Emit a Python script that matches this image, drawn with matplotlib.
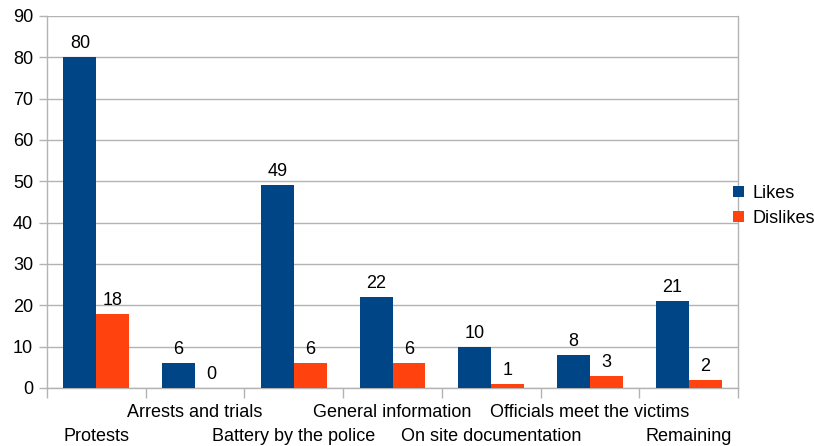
import matplotlib.pyplot as plt
import numpy as np

plt.rcParams['font.family'] = ['Liberation Sans', 'DejaVu Sans']

categories = ["Protests", "Arrests and trials", "Battery by the police",
              "General information", "On site documentation",
              "Officials meet the victims", "Remaining"]
likes = [80, 6, 49, 22, 10, 8, 21]
dislikes = [18, 0, 6, 6, 1, 3, 2]
series_names = ["Likes", "Dislikes"]
colors = ["#004586", "#ff420e"]
grid_color = "#b3b3b3"
fs = 13

fig = plt.figure(figsize=(8.14, 4.46), dpi=100)
ax = fig.add_axes([47 / 814, 1 - 388 / 446, (738 - 47) / 814, (388 - 16) / 446])

n = len(categories)
x = np.arange(n)
w = 1 / 3
bars_l = ax.bar(x - w / 2, likes, width=w, color=colors[0], label=series_names[0], zorder=3)
bars_d = ax.bar(x + w / 2, dislikes, width=w, color=colors[1], label=series_names[1], zorder=3)

for bars, vals in ((bars_l, likes), (bars_d, dislikes)):
    for b, v in zip(bars, vals):
        ax.annotate(f"{v}", (b.get_x() + b.get_width() / 2, v),
                    xytext=(0, 6.5), textcoords="offset points",
                    ha="center", va="baseline", fontsize=fs, color="#000000")

ax.set_xlim(-0.5, n - 0.5)
ax.set_ylim(0, 90)
ax.set_yticks(np.arange(0, 91, 10))
ax.yaxis.grid(True, color=grid_color, linewidth=1, zorder=0)
ax.set_axisbelow(True)

# category boundary ticks
ax.set_xticks(np.arange(-0.5, n, 1.0))
ax.set_xticklabels([])
ax.tick_params(axis="x", length=7, color=grid_color, width=1, direction="out")
ax.tick_params(axis="y", length=6, color=grid_color, width=1, direction="out",
               labelsize=fs, pad=4)

# staggered category labels
for i, c in enumerate(categories):
    y_off = -34.6 if i % 2 == 0 else -17.3
    ax.annotate(c, (i, 0), xycoords=("data", "data"), xytext=(0, y_off),
                textcoords="offset points", ha="center", va="center", fontsize=fs)

for side in ("left", "right", "bottom"):
    ax.spines[side].set_color(grid_color)
    ax.spines[side].set_linewidth(1)
ax.spines["top"].set_visible(False)

leg = fig.legend(handles=[bars_l, bars_d], labels=series_names, loc="center left",
                 bbox_to_anchor=(733 / 814, 1 - 206 / 446), frameon=False,
                 fontsize=fs, handlelength=0.6, handleheight=0.6,
                 handletextpad=0.5, labelspacing=0.45, borderaxespad=0,
                 borderpad=0)

fig.savefig("out.png", dpi=100)
